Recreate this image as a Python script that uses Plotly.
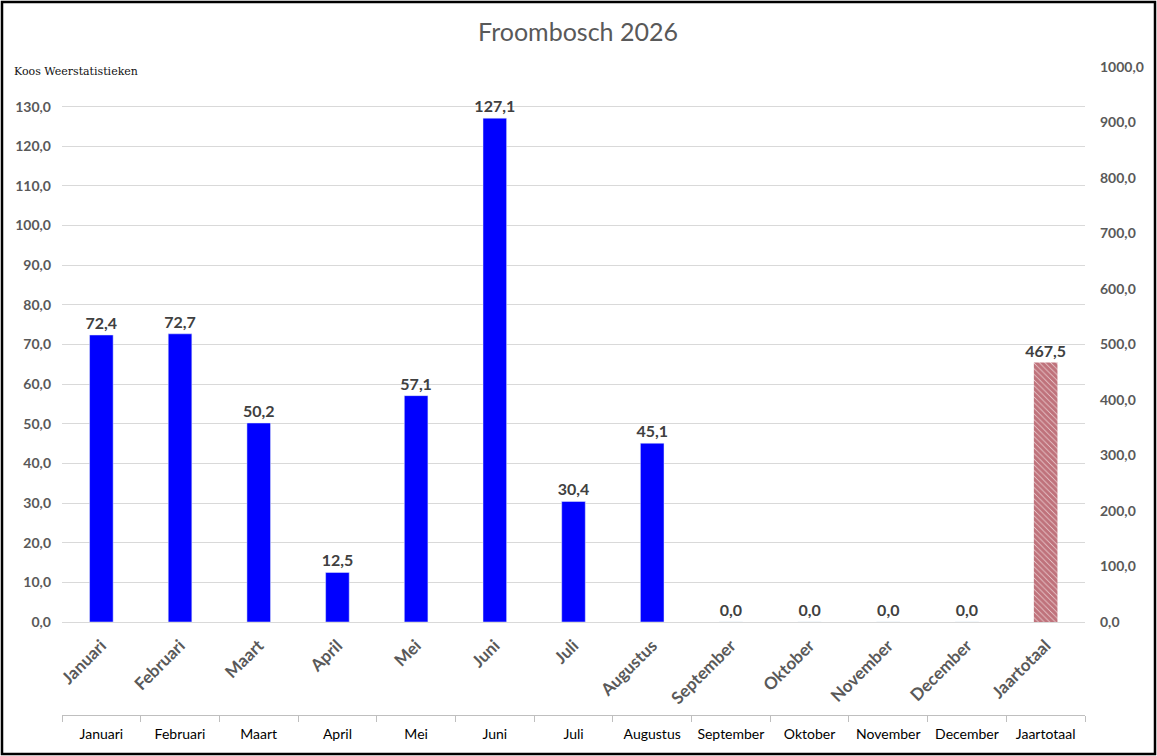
import plotly.graph_objects as go

months = ["Januari", "Februari", "Maart", "April", "Mei", "Juni", "Juli",
          "Augustus", "September", "Oktober", "November", "December"]
month_values = [72.4, 72.7, 50.2, 12.5, 57.1, 127.1, 30.4, 45.1, 0.0, 0.0, 0.0, 0.0]
total_label = "Jaartotaal"
total_value = [467.5]
categories = months + [total_label]

left_ticks = [0, 10, 20, 30, 40, 50, 60, 70, 80, 90, 100, 110, 120, 130, 140]
left_ticktext = [f"{v:.1f}".replace(".", ",") for v in left_ticks[:-1]] + [""]

W, H = 1157, 756
L, R, T, B = 62, 72, 67, 41
pw, ph = W - L - R, H - T - B

FONT = "Lato, Open Sans, sans-serif"
tick_font = dict(family=FONT, size=14, color="#595959", weight="bold")
label_font = dict(family=FONT, size=16, color="#404040", weight="bold")

fig = go.Figure()
fig.add_trace(go.Bar(
    x=months, y=month_values, marker_color="#0000FF", width=0.3,
    texttemplate="%{y:.1f}", textposition="outside", cliponaxis=False,
    constraintext="none", textfont=label_font,
    xaxis="x", yaxis="y", showlegend=False, hoverinfo="x+y"))
fig.add_trace(go.Bar(
    x=[total_label], y=total_value, width=0.3,
    marker=dict(color="white", line=dict(width=0),
                pattern=dict(shape="\\", fgcolor="#8A0012", bgcolor="#F4E4E4", size=4, solidity=0.85)),
    texttemplate="%{y:.1f}", textposition="outside", cliponaxis=False,
    constraintext="none", textfont=label_font,
    xaxis="x", yaxis="y2", showlegend=False, hoverinfo="x+y"))
fig.add_trace(go.Scatter(
    x=categories, y=[0] * len(categories), mode="markers", marker=dict(opacity=0),
    xaxis="x2", yaxis="y", showlegend=False, hoverinfo="skip"))

ydom0 = (H - B - 622) / ph

fig.update_layout(
    width=W, height=H,
    margin=dict(l=L, r=R, t=T, b=B, autoexpand=False),
    paper_bgcolor="white", plot_bgcolor="white",
    separators=",.",
    barmode="overlay",
    title=dict(text="Froombosch 2026", x=(578 - L) / pw, xref="paper",
               y=1 - 32 / H, yref="container", xanchor="center", yanchor="middle",
               font=dict(family=FONT, size=25, color="#595959")),
    xaxis=dict(type="category", categoryorder="array", categoryarray=categories,
               range=[-0.5, 12.5], anchor="y", tickangle=-45,
               tickfont=dict(family=FONT, size=17, color="#595959", weight="bold"),
               ticks="", showline=True, linecolor="#D9D9D9", showgrid=False,
               ticklabelstandoff=6),
    xaxis2=dict(type="category", categoryorder="array", categoryarray=categories,
                range=[-0.5, 12.5], overlaying="x", anchor="free", position=0,
                side="bottom", showline=True, linecolor="#BFBFBF", ticks="outside",
                tickson="boundaries", ticklen=6, tickcolor="#BFBFBF", showgrid=False,
                ticklabelstandoff=6,
                tickfont=dict(family=FONT, size=14, color="#000000")),
    yaxis=dict(domain=[ydom0, 1], range=[0, 140], tickvals=left_ticks, ticktext=left_ticktext,
               showgrid=True, gridcolor="#D9D9D9", gridwidth=1, zeroline=False,
               showline=False, ticks="", tickfont=tick_font, ticklabelstandoff=10),
    yaxis2=dict(overlaying="y", side="right", range=[0, 1000], dtick=100,
                tickformat=".1f", showgrid=False, zeroline=False, showline=False,
                tickfont=tick_font, ticklabelstandoff=14),
    shapes=[dict(type="rect", xref="paper", yref="paper",
                 x0=(2 - L) / pw, x1=(W - 2 - L) / pw,
                 y0=-(B - 2) / ph, y1=1 + (T - 2) / ph,
                 line=dict(color="black", width=2.5), fillcolor="rgba(0,0,0,0)", layer="above")],
    annotations=[dict(text="Koos Weerstatistieken", xref="paper", yref="paper",
                      x=(12 - L) / pw, y=1 - (71 - T) / ph, xanchor="left", yanchor="middle",
                      showarrow=False, bgcolor="white",
                      font=dict(family="DejaVu Serif, Liberation Serif, serif", size=11, color="#111111"))],
)

fig.write_html("out.html", config={"displayModeBar": False})

# remove the default page margin so the figure sits at the window's top-left corner
with open("out.html", encoding="utf-8") as f:
    html = f.read()
html = html.replace("<head>", "<head><style>html,body{margin:0;padding:0;overflow:hidden;}</style>", 1)
with open("out.html", "w", encoding="utf-8") as f:
    f.write(html)
